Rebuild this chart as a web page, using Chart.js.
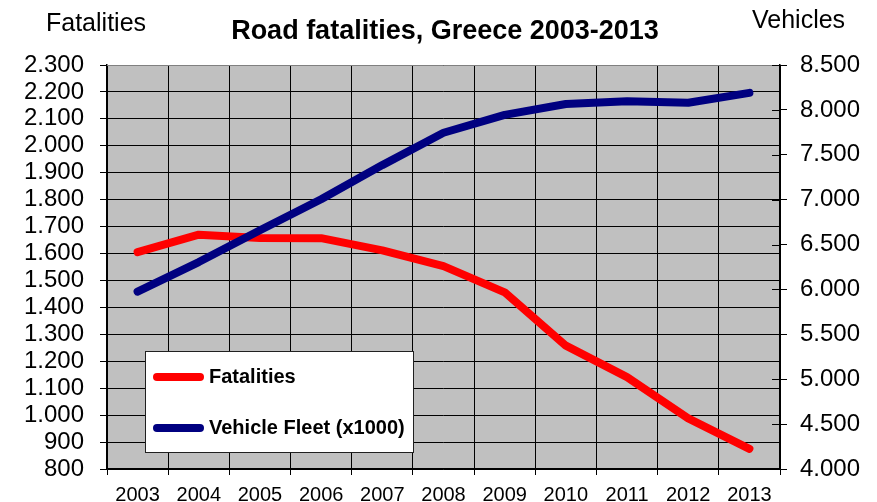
<!DOCTYPE html>
<html>
<head>
<meta charset="utf-8">
<script src="https://cdn.jsdelivr.net/npm/chart.js@4.4.1/dist/chart.umd.min.js"></script>
<style>
  html, body { margin: 0; padding: 0; background: #ffffff; }
  #wrap { width: 877px; height: 502px; overflow: hidden; }
</style>
</head>
<body>
<div id="wrap"><canvas id="c" width="877" height="502"></canvas></div>
<script>
const years = ['2003','2004','2005','2006','2007','2008','2009','2010','2011','2012','2013'];
const fatalities = [1605, 1670, 1658, 1657, 1612, 1553, 1456, 1258, 1141, 988, 875];
const vehicleFleet = [5975, 6305, 6660, 7005, 7385, 7745, 7945, 8065, 8095, 8080, 8190];
const fatalitiesLabel = 'Fatalities';
const vehicleLabel = 'Vehicle Fleet (x1000)';
const chartTitle = 'Road fatalities, Greece 2003-2013';
const leftAxisTitle = 'Fatalities';
const rightAxisTitle = 'Vehicles';

const FONT = '"Liberation Sans", Arial, sans-serif';

function fmt(v) {
  const s = String(Math.round(v));
  return s.replace(/\B(?=(\d{3})+(?!\d))/g, '.');
}

const extras = {
  id: 'extras',
  beforeDraw(chart) {
    const ctx = chart.ctx, a = chart.chartArea;
    ctx.save();
    ctx.fillStyle = '#ffffff';
    ctx.fillRect(0, 0, chart.width, chart.height);
    ctx.fillStyle = '#C0C0C0';
    ctx.fillRect(a.left, a.top, a.right - a.left, a.bottom - a.top);
    ctx.restore();
  },
  afterDraw(chart) {
    const ctx = chart.ctx, a = chart.chartArea;
    ctx.save();
    ctx.strokeStyle = '#808080';
    ctx.lineWidth = 1;
    ctx.beginPath();
    ctx.moveTo(a.left, a.top + 0.5);
    ctx.lineTo(a.right, a.top + 0.5);
    ctx.stroke();
    const y1 = chart.scales.y1;
    ctx.strokeStyle = '#000';
    ctx.lineWidth = 1;
    y1.ticks.forEach(t => {
      const py = Math.round(y1.getPixelForValue(t.value)) + 0.5;
      ctx.beginPath();
      ctx.moveTo(a.right - 8, py);
      ctx.lineTo(a.right, py);
      ctx.stroke();
    });
    ctx.fillStyle = '#000';
    ctx.textBaseline = 'alphabetic';
    ctx.textAlign = 'center';
    ctx.font = 'bold 27px ' + FONT;
    ctx.fillText(chartTitle, 445, 39);
    ctx.font = '25px ' + FONT;
    ctx.textAlign = 'left';
    ctx.fillText(leftAxisTitle, 46, 31);
    ctx.fillText(rightAxisTitle, 752, 28);
    const lx = 145, ly = 351, lw = 268, lh = 101;
    ctx.fillStyle = '#ffffff';
    ctx.fillRect(lx, ly, lw, lh);
    ctx.strokeStyle = '#202020';
    ctx.lineWidth = 1;
    ctx.strokeRect(lx + 0.5, ly + 0.5, lw, lh);
    const rows = [377, 428];
    chart.data.datasets.forEach((ds, i) => {
      const y = rows[i];
      ctx.strokeStyle = ds.borderColor;
      ctx.lineWidth = 8;
      ctx.lineCap = 'round';
      ctx.beginPath();
      ctx.moveTo(157, y);
      ctx.lineTo(200, y);
      ctx.stroke();
      ctx.fillStyle = '#000';
      ctx.font = 'bold 20px ' + FONT;
      ctx.textAlign = 'left';
      ctx.textBaseline = 'middle';
      ctx.fillText(ds.label, 209, y);
    });
    ctx.restore();
  }
};

new Chart(document.getElementById('c'), {
  type: 'line',
  data: {
    labels: years,
    datasets: [
      {
        label: fatalitiesLabel,
        data: fatalities,
        yAxisID: 'y',
        borderColor: '#FF0000',
        backgroundColor: '#FF0000',
        borderWidth: 8,
        borderCapStyle: 'round',
        borderJoinStyle: 'round',
        pointRadius: 0,
        tension: 0,
        order: 1
      },
      {
        label: vehicleLabel,
        data: vehicleFleet,
        yAxisID: 'y1',
        borderColor: '#000080',
        backgroundColor: '#000080',
        borderWidth: 8,
        borderCapStyle: 'round',
        borderJoinStyle: 'round',
        pointRadius: 0,
        tension: 0,
        order: 0
      }
    ]
  },
  options: {
    responsive: false,
    animation: false,
    devicePixelRatio: 1,
    layout: { padding: { top: 65, left: 0, right: 0, bottom: 0 } },
    plugins: {
      legend: { display: false },
      title: { display: false },
      tooltip: { enabled: false }
    },
    scales: {
      x: {
        type: 'category',
        offset: true,
        grid: { offset: true, color: '#000', lineWidth: 1, tickLength: 6, drawTicks: true },
        border: { display: true, color: '#000', width: 1.5 },
        ticks: { color: '#000', font: { family: FONT, size: 20 }, padding: 8, maxRotation: 0, autoSkip: false },
        afterFit(s) { s.height = 33; }
      },
      y: {
        position: 'left',
        min: 800, max: 2300,
        grid: { color: '#000', lineWidth: 1, tickLength: 7 },
        border: { display: true, color: '#000', width: 1.5 },
        ticks: { stepSize: 100, autoSkip: false, color: '#000', font: { family: FONT, size: 24 }, padding: 16, callback: v => fmt(v) },
        afterFit(s) { s.width = 107; }
      },
      y1: {
        position: 'right',
        min: 4000, max: 8500,
        grid: { drawOnChartArea: false, color: '#000', lineWidth: 1, tickLength: 7 },
        border: { display: true, color: '#000', width: 1.5 },
        ticks: { stepSize: 500, autoSkip: false, color: '#000', font: { family: FONT, size: 24 }, padding: 13, callback: v => fmt(v) },
        afterFit(s) { s.width = 97; }
      }
    }
  },
  plugins: [extras]
});
</script>
</body>
</html>
